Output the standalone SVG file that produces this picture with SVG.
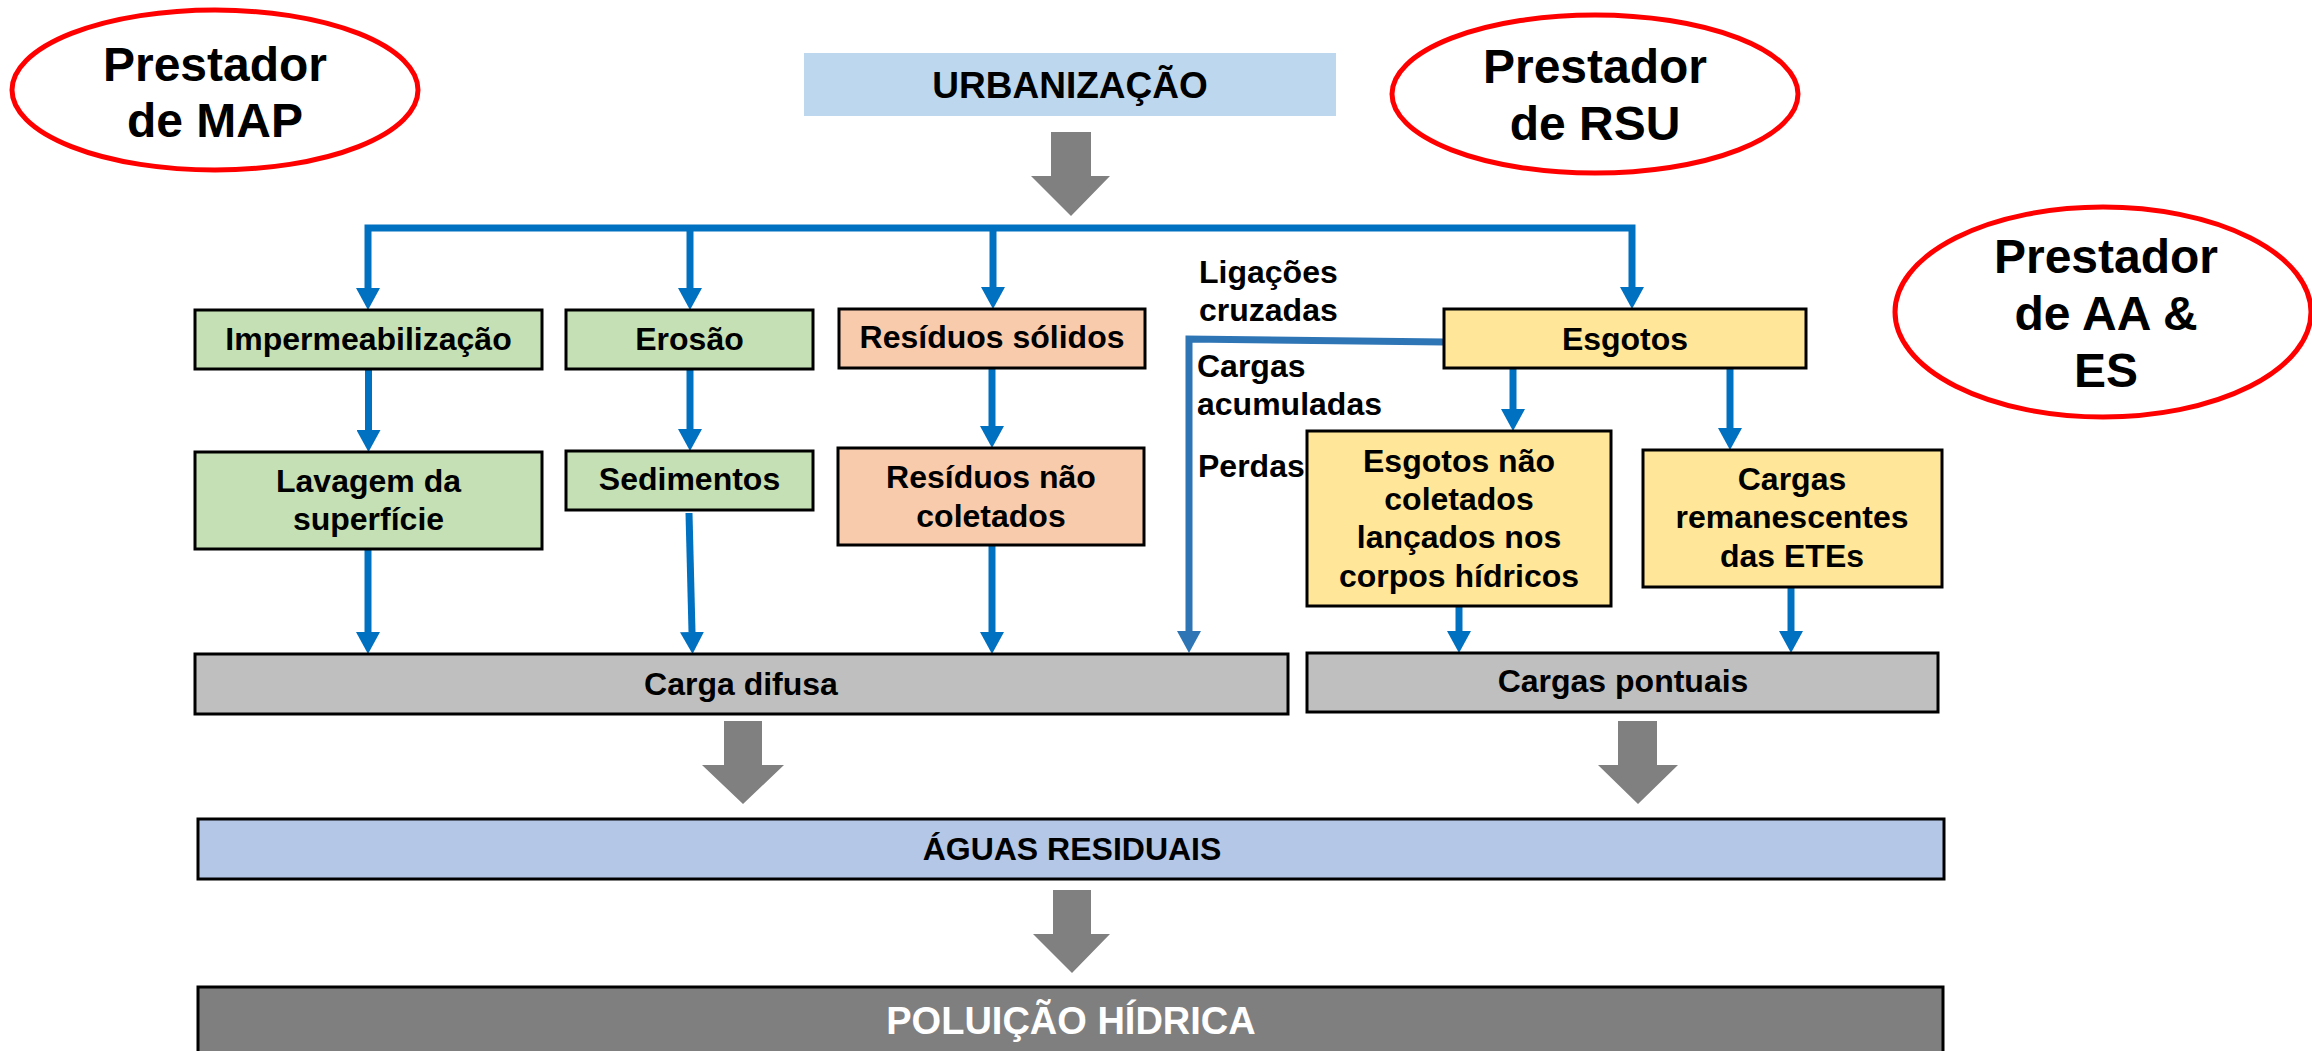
<svg xmlns="http://www.w3.org/2000/svg" width="2312" height="1051" viewBox="0 0 2312 1051">
  <style>
    text { font-family: "Liberation Sans", Arial, sans-serif; font-weight: bold; fill: #000; text-anchor: middle; }
    .t32 { font-size: 32px; }
    .t37 { font-size: 37px; }
    .t38 { font-size: 38px; }
    .t48 { font-size: 48px; }
    .lbl { font-size: 32px; text-anchor: start; }
    .box { stroke: #000; stroke-width: 3; }
    .green { fill: #C5E0B4; }
    .orange { fill: #F8CBAD; }
    .yellow { fill: #FFE699; }
    .gray { fill: #BFBFBF; }
    .prov { fill: none; stroke: #FF0000; stroke-width: 5; }
    .conn { fill: none; stroke: #0070C0; stroke-width: 7; }
    .conn2 { fill: none; stroke: #2E75B6; stroke-width: 7; }
    .block { fill: #808080; }
  </style>
  <defs>
    <marker id="ah" viewBox="0 0 22 24" refX="0" refY="12" markerWidth="22" markerHeight="24" markerUnits="userSpaceOnUse" orient="auto-start-reverse">
      <path d="M0,0 L22,12 L0,24 z" fill="#0070C0"/>
    </marker>
    <marker id="ah2" viewBox="0 0 22 24" refX="0" refY="12" markerWidth="22" markerHeight="24" markerUnits="userSpaceOnUse" orient="auto">
      <path d="M0,0 L22,12 L0,24 z" fill="#2E75B6"/>
    </marker>
  </defs>
  <rect width="2312" height="1051" fill="#FFFFFF"/>

  <g id="prestador-map">
    <ellipse class="prov" cx="215" cy="90" rx="203" ry="80"/>
    <text class="t48" x="215" y="81">Prestador</text>
    <text class="t48" x="215" y="137">de MAP</text>
  </g>
  <g id="prestador-rsu">
    <ellipse class="prov" cx="1595" cy="94" rx="203" ry="79"/>
    <text class="t48" x="1595" y="83">Prestador</text>
    <text class="t48" x="1595" y="140">de RSU</text>
  </g>
  <g id="prestador-aaes">
    <ellipse class="prov" cx="2103" cy="312" rx="208" ry="105"/>
    <text class="t48" x="2106" y="273">Prestador</text>
    <text class="t48" x="2106" y="330">de AA &amp;</text>
    <text class="t48" x="2106" y="387">ES</text>
  </g>

  <g id="urbanizacao">
    <rect x="804" y="53" width="532" height="63" fill="#BDD7EE"/>
    <text class="t37" x="1070" y="98">URBANIZAÇÃO</text>
  </g>

  <g id="block-arrows">
    <polygon class="block" points="1051,132 1091,132 1091,176 1110,176 1071,216 1031,176 1051,176"/>
    <polygon class="block" points="724,721 762,721 762,765 784,765 743,804 702,765 724,765"/>
    <polygon class="block" points="1618,721 1657,721 1657,765 1678,765 1638,804 1598,765 1618,765"/>
    <polygon class="block" points="1053,890 1091,890 1091,934 1110,934 1072,973 1033,934 1053,934"/>
  </g>

  <g id="connectors">
    <path class="conn" d="M368,288 V228 H1632 V287" marker-start="url(#ah)" marker-end="url(#ah)"/>
    <path class="conn" d="M690,228 V288" marker-end="url(#ah)"/>
    <path class="conn" d="M993,228 V287" marker-end="url(#ah)"/>
    <path class="conn" d="M368.5,369 V430" marker-end="url(#ah)"/>
    <path class="conn" d="M690,369 V429" marker-end="url(#ah)"/>
    <path class="conn" d="M992,368 V426" marker-end="url(#ah)"/>
    <path class="conn" d="M368,549 V632" marker-end="url(#ah)"/>
    <path class="conn" d="M689,513 L692,632" marker-end="url(#ah)"/>
    <path class="conn" d="M992,545 V632" marker-end="url(#ah)"/>
    <path class="conn2" d="M1444,342 L1189,339 V631" marker-end="url(#ah2)"/>
    <path class="conn" d="M1513,368 V409" marker-end="url(#ah)"/>
    <path class="conn" d="M1730,368 V428" marker-end="url(#ah)"/>
    <path class="conn" d="M1459,606 V631" marker-end="url(#ah)"/>
    <path class="conn" d="M1791,587 V631" marker-end="url(#ah)"/>
  </g>

  <g id="labels">
    <text class="lbl" x="1199" y="283">Ligações</text>
    <text class="lbl" x="1199" y="321">cruzadas</text>
    <text class="lbl" x="1197" y="377">Cargas</text>
    <text class="lbl" x="1197" y="415">acumuladas</text>
    <text class="lbl" x="1198" y="477">Perdas</text>
  </g>

  <g id="impermeabilizacao">
    <rect class="box green" x="195" y="310" width="347" height="59"/>
    <text class="t32" x="368.5" y="350">Impermeabilização</text>
  </g>
  <g id="erosao">
    <rect class="box green" x="566" y="310" width="247" height="59"/>
    <text class="t32" x="689.5" y="350">Erosão</text>
  </g>
  <g id="residuos-solidos">
    <rect class="box orange" x="839" y="309" width="306" height="59"/>
    <text class="t32" x="992" y="348">Resíduos sólidos</text>
  </g>
  <g id="esgotos">
    <rect class="box yellow" x="1444" y="309" width="362" height="59"/>
    <text class="t32" x="1625" y="350">Esgotos</text>
  </g>
  <g id="lavagem">
    <rect class="box green" x="195" y="452" width="347" height="97"/>
    <text class="t32" x="368.5" y="492">Lavagem da</text>
    <text class="t32" x="368.5" y="530">superfície</text>
  </g>
  <g id="sedimentos">
    <rect class="box green" x="566" y="451" width="247" height="59"/>
    <text class="t32" x="689.5" y="490">Sedimentos</text>
  </g>
  <g id="residuos-nao-coletados">
    <rect class="box orange" x="838" y="448" width="306" height="97"/>
    <text class="t32" x="991" y="488">Resíduos não</text>
    <text class="t32" x="991" y="527">coletados</text>
  </g>
  <g id="esgotos-nao-coletados">
    <rect class="box yellow" x="1307" y="431" width="304" height="175"/>
    <text class="t32" x="1459" y="472">Esgotos não</text>
    <text class="t32" x="1459" y="510">coletados</text>
    <text class="t32" x="1459" y="548">lançados nos</text>
    <text class="t32" x="1459" y="587">corpos hídricos</text>
  </g>
  <g id="cargas-remanescentes">
    <rect class="box yellow" x="1643" y="450" width="299" height="137"/>
    <text class="t32" x="1792" y="490">Cargas</text>
    <text class="t32" x="1792" y="528">remanescentes</text>
    <text class="t32" x="1792" y="567">das ETEs</text>
  </g>
  <g id="carga-difusa">
    <rect class="box gray" x="195" y="654" width="1093" height="60"/>
    <text class="t32" x="741" y="695">Carga difusa</text>
  </g>
  <g id="cargas-pontuais">
    <rect class="box gray" x="1307" y="653" width="631" height="59"/>
    <text class="t32" x="1623" y="692">Cargas pontuais</text>
  </g>
  <g id="aguas-residuais">
    <rect class="box" fill="#B4C7E7" x="198" y="819" width="1746" height="60"/>
    <text class="t32" x="1072" y="860">ÁGUAS RESIDUAIS</text>
  </g>
  <g id="poluicao-hidrica">
    <rect class="box" fill="#7F7F7F" x="198" y="987" width="1745" height="70"/>
    <text class="t38" x="1071" y="1034" style="fill:#FFFFFF">POLUIÇÃO HÍDRICA</text>
  </g>
</svg>
